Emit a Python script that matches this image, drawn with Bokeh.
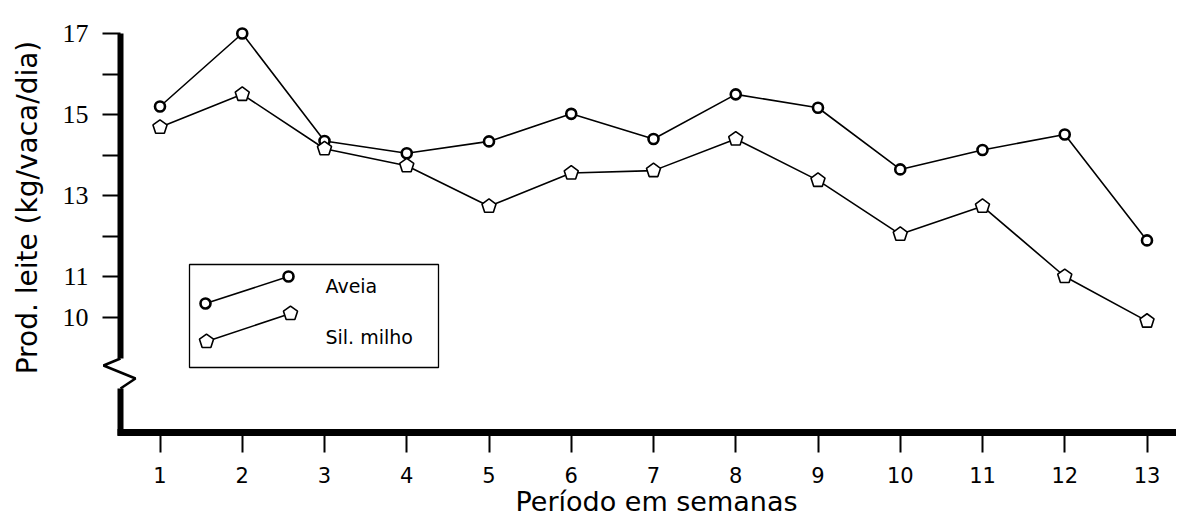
import math
from bokeh.plotting import figure
from bokeh.models import Range1d, FixedTicker, Label
from bokeh.core.properties import value
from bokeh.embed import file_html
from bokeh.resources import INLINE

# ---------------- data ----------------
weeks = [1, 2, 3, 4, 5, 6, 7, 8, 9, 10, 11, 12, 13]
aveia = [15.20, 17.00, 14.35, 14.05, 14.34, 15.02, 14.40, 15.50, 15.17, 13.65, 14.13, 14.51, 11.90]
sil_milho = [14.69, 15.50, 14.16, 13.74, 12.74, 13.56, 13.62, 14.40, 13.38, 12.05, 12.74, 11.01, 9.91]
series_names = ["Aveia", "Sil. milho"]
y_ticks = [10, 11, 12, 13, 14, 15, 16, 17]
y_tick_labels = ["10", "11", "", "13", "", "15", "", "17"]
x_title = "Período em semanas"
y_title = "Prod. leite (kg/vaca/dia)"

# ---------------- layout (canvas pixel -> data helpers, for decorations) ----------------
W, H = 1176, 518
X_PX0, X_STEP = 159.5, 82.25      # pixel of week 1, pixels per week
Y_PX17, Y_STEP = 33.0, 40.57      # pixel of 17 kg, pixels per kg


def px2x(px):
    return 1 + (px - X_PX0) / X_STEP


def py2y(py):
    return 17 - (py - Y_PX17) / Y_STEP


X0, X1 = px2x(0), px2x(W)
Y0, Y1 = py2y(H), py2y(0)
AXIS_X = px2x(120)
AXIS_Y = py2y(432)

p = figure(frame_width=W, frame_height=H, min_border=0,
           x_range=Range1d(X0, X1), y_range=Range1d(Y0, Y1),
           output_backend="svg", toolbar_location=None)
p.grid.visible = False
p.outline_line_color = None
p.background_fill_color = "white"
p.border_fill_color = "white"

# y axis (broken)
ya = p.yaxis[0]
ya.ticker = FixedTicker(ticks=y_ticks)
ya.major_label_overrides = {t: l for t, l in zip(y_ticks, y_tick_labels)}
ya.bounds = (9, 17)
ya.fixed_location = AXIS_X
ya.axis_line_width = 6
ya.axis_line_color = "black"
ya.major_tick_out = 18
ya.major_tick_in = 0
ya.major_tick_line_width = 2
ya.major_tick_line_color = "black"
ya.minor_tick_line_color = None
ya.major_label_standoff = 14
ya.major_label_text_font = "Liberation Serif"
ya.major_label_text_font_size = "26px"
ya.major_label_text_color = "black"

# x axis
xa = p.xaxis[0]
xa.ticker = FixedTicker(ticks=weeks)
xa.bounds = (px2x(117), X1)
xa.fixed_location = AXIS_Y
xa.axis_line_width = 7
xa.axis_line_color = "black"
xa.major_tick_out = 20
xa.major_tick_in = 0
xa.major_tick_line_width = 2
xa.major_tick_line_color = "black"
xa.minor_tick_line_color = None
xa.major_label_standoff = 14
xa.major_label_text_font = "DejaVu Sans"
xa.major_label_text_font_size = "21px"
xa.major_label_text_color = "black"

# axis titles
p.add_layout(Label(x=px2x(656), y=py2y(501), text=x_title, text_align="center",
                   text_baseline="middle", text_font="DejaVu Sans",
                   text_font_size="27px", text_color="black"))
p.add_layout(Label(x=px2x(27), y=py2y(207), text=y_title, angle=math.pi / 2,
                   text_align="center", text_baseline="middle",
                   text_font="DejaVu Sans", text_font_size="28px",
                   text_color="black"))

# axis break (zig-zag) and lower axis stub
p.line([AXIS_X, px2x(103), px2x(135), AXIS_X],
       [py2y(358), py2y(365), py2y(378), py2y(388)],
       line_width=2.5, color="black")
p.line([AXIS_X, AXIS_X], [py2y(388), py2y(435)], line_width=6, color="black")

# series lines
p.line(weeks, aveia, line_width=1.6, color="black")
p.line(weeks, sil_milho, line_width=1.6, color="black")


def pentagons(xs, ys):
    try:
        p.ngon(x=xs, y=ys, radius=7.4, radius_units="screen", n=5, angle=0,
               fill_color="white", line_color="black", line_width=1.6)
    except Exception:
        p.scatter(xs, ys, marker="hex", size=14, fill_color="white",
                  line_color="black", line_width=1.6)


def circles(xs, ys):
    p.scatter(xs, ys, marker="circle", size=10, fill_color="white",
              line_color="black", line_width=2.6)


circles(weeks, aveia)
pentagons(weeks, sil_milho)

# custom legend (slanted samples, as in the original)
p.quad(left=[px2x(189)], right=[px2x(438)], bottom=[py2y(367)], top=[py2y(264)],
       fill_color="white", line_color="black", line_width=1.3)
a_x = [px2x(205), px2x(288)]
a_y = [py2y(303), py2y(276)]
s_x = [px2x(206), px2x(290)]
s_y = [py2y(341), py2y(313)]
p.line(a_x, a_y, line_width=1.6, color="black")
circles(a_x, a_y)
p.line(s_x, s_y, line_width=1.6, color="black")
pentagons(s_x, s_y)
p.text(x=[px2x(325), px2x(325)], y=[py2y(285), py2y(336.5)], text=series_names,
       text_font=value("DejaVu Sans"), text_font_size="19px",
       text_baseline="middle", text_align="left", text_color="black")

open("out.html", "w").write(file_html(p, INLINE))
